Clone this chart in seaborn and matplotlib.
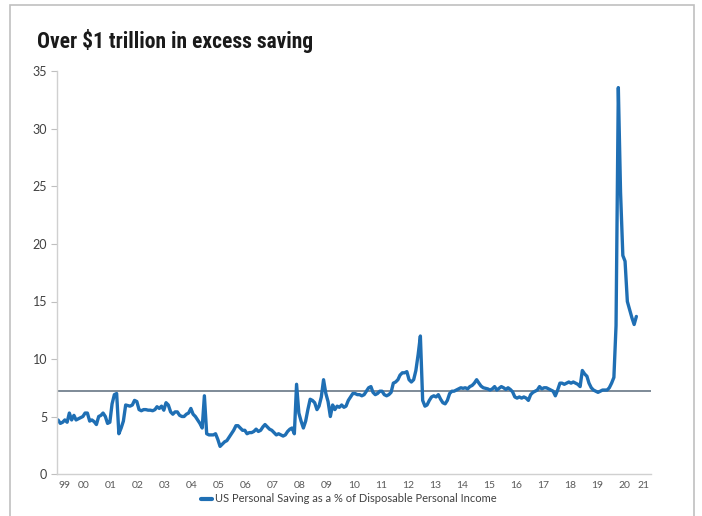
import numpy as np
import pandas as pd
import matplotlib
matplotlib.use("Agg")
import matplotlib.pyplot as plt
from matplotlib.patches import Rectangle
from matplotlib.lines import Line2D
import seaborn as sns

# US personal saving rate, % of disposable personal income (monthly, Jul 1999 - Dec 2020)
sav_1999_2002 = [4.7, 4.4, 4.5, 4.7, 4.5, 5.3,
                 4.7, 5.1, 4.7, 4.8, 4.9, 5.0, 5.3, 5.3, 4.6, 4.7, 4.55, 4.3,
                 5.0, 5.1, 5.3, 5.0, 4.4, 4.5, 6.1, 6.9, 7.0, 3.5, 4.0, 4.6,
                 6.0, 5.95, 5.9, 6.0, 6.4, 6.3, 5.6, 5.5, 5.6, 5.6, 5.55, 5.55]
sav_2003_2006 = [5.5, 5.6, 5.85, 5.7, 5.9, 5.55, 6.2, 6.0, 5.4, 5.2, 5.4, 5.4,
                 5.1, 5.0, 5.0, 5.2, 5.3, 5.7, 5.2, 5.0, 4.7, 4.4, 4.0, 6.8,
                 3.5, 3.4, 3.4, 3.4, 3.5, 3.0, 2.4, 2.6, 2.8, 2.9, 3.2, 3.5,
                 3.8, 4.2, 4.2, 4.0, 3.8, 3.8, 3.5, 3.6, 3.6, 3.7, 3.9, 3.7]
sav_2007_2010 = [3.8, 4.1, 4.3, 4.1, 3.9, 3.8, 3.6, 3.4, 3.5, 3.4, 3.3, 3.4,
                 3.7, 3.9, 4.0, 3.5, 7.8, 5.3, 4.6, 4.0, 4.6, 5.6, 6.5, 6.4,
                 6.2, 5.6, 5.9, 6.7, 8.2, 7.0, 6.3, 5.0, 6.0, 5.6, 5.9, 5.8,
                 6.0, 5.8, 5.9, 6.4, 6.7, 7.0, 7.0, 6.9, 6.9, 6.8, 6.9, 7.2]
sav_2011_2014 = [7.5, 7.6, 7.1, 6.9, 7.0, 7.2, 7.2, 6.9, 6.8, 6.9, 7.1, 7.9,
                 8.0, 8.2, 8.6, 8.8, 8.8, 8.9, 8.2, 8.0, 8.2, 9.0, 10.4, 12.0,
                 6.4, 5.9, 6.0, 6.4, 6.7, 6.8, 6.7, 6.9, 6.5, 6.2, 6.1, 6.4,
                 7.0, 7.2, 7.2, 7.3, 7.4, 7.5, 7.45, 7.5, 7.4, 7.6, 7.7, 7.9]
sav_2015_2018 = [8.2, 7.9, 7.65, 7.5, 7.45, 7.4, 7.3, 7.4, 7.6, 7.3, 7.45, 7.6,
                 7.5, 7.35, 7.5, 7.35, 7.15, 6.7, 6.6, 6.7, 6.6, 6.7, 6.6, 6.4,
                 6.9, 7.1, 7.2, 7.3, 7.6, 7.4, 7.5, 7.5, 7.4, 7.3, 7.2, 6.8,
                 7.3, 7.9, 7.9, 7.8, 7.9, 8.0, 7.9, 8.0, 7.9, 7.8, 7.6, 9.0]
sav_2019_2020 = [8.7, 8.5, 7.9, 7.5, 7.3, 7.2, 7.1, 7.2, 7.3, 7.3, 7.3, 7.5,
                 7.9, 8.4, 12.9, 33.6, 24.5, 19.0, 18.5, 15.0, 14.3, 13.6, 13.0, 13.7]
avg_level = 7.25
start_month = "1999-07-01"

tick_years = list(range(1999, 2022))
tick_labels = ["99", "00", "01", "02", "03", "04", "05", "06", "07", "08", "09", "10",
               "11", "12", "13", "14", "15", "16", "17", "18", "19", "20", "21"]

series_name = "US Personal Saving as a % of Disposable Personal Income"
title = "Over $1 trillion in excess saving"

values = (sav_1999_2002 + sav_2003_2006 + sav_2007_2010 + sav_2011_2014
          + sav_2015_2018 + sav_2019_2020)
dates = pd.date_range(start_month, periods=len(values), freq="MS") + pd.Timedelta(days=14)
df = pd.DataFrame({"date": dates, "rate": values, "series": series_name})

sns.set_theme(style="white")
plt.rcParams["font.family"] = ["Lato", "DejaVu Sans"]

fig = plt.figure(figsize=(7.02, 5.16), dpi=100)
ax = fig.add_axes([57 / 702, 1 - 474 / 516, (651 - 57) / 702, (474 - 71.5) / 516])

blue = "#1f6fb4"
sns.lineplot(data=df, x="date", y="rate", hue="series", palette=[blue],
             linewidth=2.4, ax=ax, legend=False)
ax.axhline(avg_level, color="#5b6b7a", linewidth=1.1, zorder=1)

ax.set_xlim(pd.Timestamp("1999-07-01"), pd.Timestamp("2021-07-01"))
ax.set_ylim(0, 35)
ax.set_yticks([0, 5, 10, 15, 20, 25, 30, 35])
ax.tick_params(axis="y", labelsize=9, colors="#404040", length=4, width=0.8,
               color="#bfbfbf", left=True, pad=3)

tick_pos = []
for y in tick_years:
    if y == 1999:
        tick_pos.append(pd.Timestamp("1999-10-10"))
    elif y == 2021:
        tick_pos.append(pd.Timestamp("2021-03-25"))
    else:
        tick_pos.append(pd.Timestamp(f"{y}-07-01"))
ax.set_xticks(tick_pos)
ax.set_xticklabels(tick_labels)
ax.tick_params(axis="x", labelsize=7.5, colors="#595959", length=0, pad=5)

ax.set_xlabel("")
ax.set_ylabel("")
for s in ["top", "right"]:
    ax.spines[s].set_visible(False)
for s in ["left", "bottom"]:
    ax.spines[s].set_color("#d0d0d0")
    ax.spines[s].set_linewidth(1.0)
ax.grid(False)

# legend
handle = Line2D([0], [0], color=blue, linewidth=3)
fig.legend([handle], [series_name], loc="center", bbox_to_anchor=(349 / 702, 1 - 499 / 516),
           frameon=False, fontsize=8, handlelength=1.0, handletextpad=0.3,
           labelcolor="#404040")

# title
fig.text(37 / 702, 1 - 41 / 516, title, fontsize=15.5, fontweight="bold",
         family=["Roboto Condensed", "Liberation Sans Narrow", "Roboto", "DejaVu Sans"],
         color="#1a1a1a", va="center", ha="left")

# outer frame
fig.patches.append(Rectangle((10 / 702, -0.02), 684 / 702, 1.02 - 5 / 516,
                             transform=fig.transFigure, fill=False,
                             edgecolor="#c0c0c0", linewidth=1.2))

fig.savefig("out.png", dpi=100)
